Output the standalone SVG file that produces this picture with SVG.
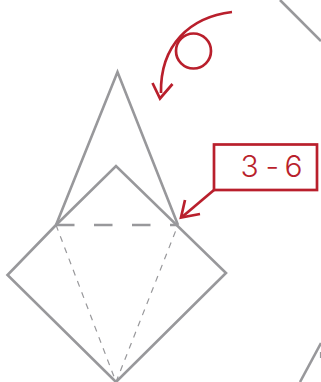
<svg xmlns="http://www.w3.org/2000/svg" width="321" height="382" viewBox="0 0 321 382">
<style>
.g{fill:none;stroke:#98989b;stroke-width:2.6}
.d{fill:none;stroke:#98989b;stroke-width:1.2;stroke-dasharray:6 6}
.r{fill:none;stroke:#b91f2c;stroke-width:2.7}
text{font-family:Inter,Roboto,"Liberation Sans",Arial,sans-serif;font-weight:300;font-size:30px;fill:#b91f2c}
</style>
<g id="paper">
<path class="g" d="M56 225L117.500 72L178 225"/>
<path class="g" d="M56 225L116 166L226 273L116 382L7.500 275L56 225"/>
<path class="g" d="M56 225H178" stroke-dasharray="18.500 19.500"/>
<path class="d" d="M56 225L116 382L178 225"/>
<path class="g" d="M280 0L321 41"/>
<path class="g" d="M321 343L300 382"/>
<path class="d" d="M320.500 352V364"/>
</g>
<g id="rotation">
<circle class="r" cx="193.500" cy="51" r="17.500"/>
<path class="r" d="M232 12C190 17 160 45 161 93"/>
<path class="r" d="M152.500 83L160 98.500L172.500 84"/>
</g>
<g id="label">
<rect class="r" x="214" y="144.500" width="103" height="45.500"/>
<text x="240.500 262 265.500 278 284.500" y="177">3 - 6</text>
<path class="r" d="M214 190L182 217"/>
<path class="r" d="M185 200L181 217.500L200 214"/>
</g>
</svg>
